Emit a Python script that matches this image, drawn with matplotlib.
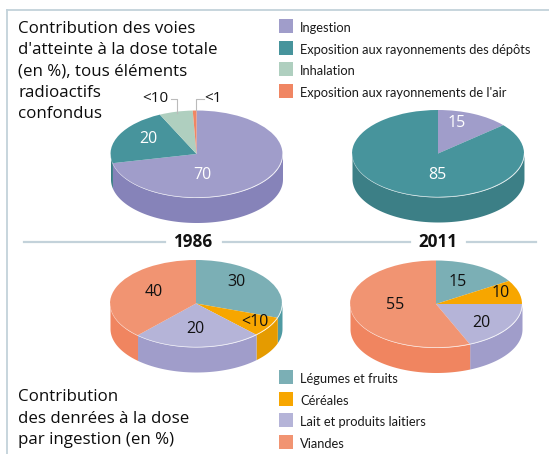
import numpy as np
import matplotlib
matplotlib.use('Agg')
import matplotlib.pyplot as plt

plt.rcParams['font.family'] = ['Open Sans', 'DejaVu Sans']

W, H = 549, 454

# slice values (clockwise from 12 o'clock)
voies_1986 = [71.6, 21.4, 6.3, 0.7]
voies_2011 = [13.7, 86.3]
denrees_1986 = [30.3, 7.4, 24.2, 38.1]
denrees_2011 = [16.1, 8.9, 18.6, 56.4]

voies_labels = ['Ingestion', 'Exposition aux rayonnements des dépôts', 'Inhalation',
                "Exposition aux rayonnements de l'air"]
denrees_labels = ['Légumes et fruits', 'Céréales', 'Lait et produits laitiers', 'Viandes']

# top colour, side colour
PURPLE = ('#A09DCA', '#8683B9')
TEAL = ('#47949C', '#3C7F86')
GREEN = ('#AFCFBF', '#93B8A6')
SALMON = ('#F08663', '#E0785A')
VEG = ('#7BAFB5', '#4F9AA2')
CEREAL = ('#F7A600', '#E59B00')
MILK = ('#B5B4D8', '#A09DCA')
MEAT = ('#F19472', '#F08560')


def draw_pie(fig, cx, cy, values, colors, rx=86, ry=43.5, depth=25):
    # one axes per pie, in a box around the ellipse, scaled to the unit circle
    left = (cx - rx) / W
    bottom = 1 - (cy + ry + depth) / H
    ax = fig.add_axes([left, bottom, 2 * rx / W, (2 * ry + depth) / H])
    ax.axis('off')

    fracs = np.array(values) / sum(values)
    edges = 90 - 360 * np.concatenate([[0], np.cumsum(fracs)])
    drop = depth / ry
    for i, c in enumerate(colors):
        t = np.radians(np.linspace(edges[i], edges[i + 1], 200))
        front = t[np.sin(t) <= 0]
        if len(front) > 1:
            ax.fill_between(np.cos(front), np.sin(front) - drop, np.sin(front),
                            color=c[1], lw=0, clip_on=False)
    ax.pie(values, colors=[c[0] for c in colors], startangle=90, counterclock=False,
           radius=1, wedgeprops=dict(linewidth=0))
    # pale rim on the front of the top face
    rim = np.radians(np.linspace(180, 360, 200))
    ax.plot(np.cos(rim), np.sin(rim), color='white', lw=0.5, alpha=0.4, clip_on=False)
    ax.set_aspect('auto')
    ax.set_xlim(-1, 1)
    ax.set_ylim(-1 - drop, 1)
    return ax


fig = plt.figure(figsize=(W / 100, H / 100), dpi=100)

draw_pie(fig, 196.5, 154, voies_1986, [PURPLE, TEAL, GREEN, SALMON])
draw_pie(fig, 438, 153.5, voies_2011, [PURPLE, TEAL])
draw_pie(fig, 196, 303.5, denrees_1986, [VEG, CEREAL, MILK, MEAT])
draw_pie(fig, 436, 304, denrees_2011, [VEG, CEREAL, MILK, MEAT])

# overlay in pixel coordinates for text, legends and rules
ov = fig.add_axes([0, 0, 1, 1], zorder=5)
ov.set_xlim(0, W)
ov.set_ylim(H, 0)
ov.axis('off')
ov.patch.set_alpha(0)

RULE = '#C3D2DA'
ov.plot([7, W], [10, 10], color=RULE, lw=1.3)
ov.plot([7, 7], [10, H], color=RULE, lw=1.3)
ov.plot([24, 165], [242, 242], color=RULE, lw=1.6)
ov.plot([223, 410], [242, 242], color=RULE, lw=1.6)
ov.plot([467, 536], [242, 242], color=RULE, lw=1.6)
ov.text(193, 242, '1986', fontsize=12.3, fontweight='bold', ha='center', va='center', color='#111111')
ov.text(438, 242, '2011', fontsize=12.3, fontweight='bold', ha='center', va='center', color='#111111')

title_top = ['Contribution des voies', "d'atteinte à la dose totale", '(en %), tous éléments',
             'radioactifs', 'confondus']
for i, line in enumerate(title_top):
    ov.text(18, 29 + i * 21.3, line, fontsize=12.2, va='center', color='#0D0D0D')
title_bot = ['Contribution', 'des denrées à la dose', 'par ingestion (en %)']
for i, line in enumerate(title_bot):
    ov.text(18, 397 + i * 21.6, line, fontsize=12.2, va='center', color='#0D0D0D')

for i, (lab, c) in enumerate(zip(voies_labels, [PURPLE, TEAL, GREEN, SALMON])):
    y = 26 + i * 21.7
    ov.fill_between([279, 293], y - 7, y + 7, color=c[0], lw=0)
    ov.text(300, y + 2, lab, fontsize=9.3, va='center', color='#1A1A1A', family='Lato')
for i, (lab, c) in enumerate(zip(denrees_labels, [VEG, CEREAL, MILK, MEAT])):
    y = 377 + i * 21.7
    ov.fill_between([279, 293], y - 7, y + 7, color=c[0], lw=0)
    ov.text(300, y + 2, lab, fontsize=9.3, va='center', color='#1A1A1A', family='Lato')

# slice labels
for x, y, s, col in [(148, 139, '20', 'white'), (202, 175, '70', 'white'), (457, 123, '15', 'white'),
                     (437, 175, '85', 'white'), (236, 282, '30', '#111111'), (255, 322, '<10', '#111111'),
                     (154, 292, '40', '#111111'), (195, 329, '20', '#111111'), (458, 282, '15', '#111111'),
                     (501, 293, '10', '#111111'), (395, 305, '55', '#111111'), (481, 323, '20', '#111111')]:
    ov.text(x, y, s, fontsize=11.5, ha='center', va='center', color=col)
ov.text(155, 98, '<10', fontsize=11, ha='center', va='center', color='#111111')
ov.text(213, 98, '<1', fontsize=11, ha='center', va='center', color='#111111')
ov.plot([171, 177, 177], [99, 99, 113], color='#BBBBBB', lw=0.8)
ov.plot([204, 196, 196], [99, 99, 110], color='#BBBBBB', lw=0.8)

fig.savefig('out.png', dpi=100)
